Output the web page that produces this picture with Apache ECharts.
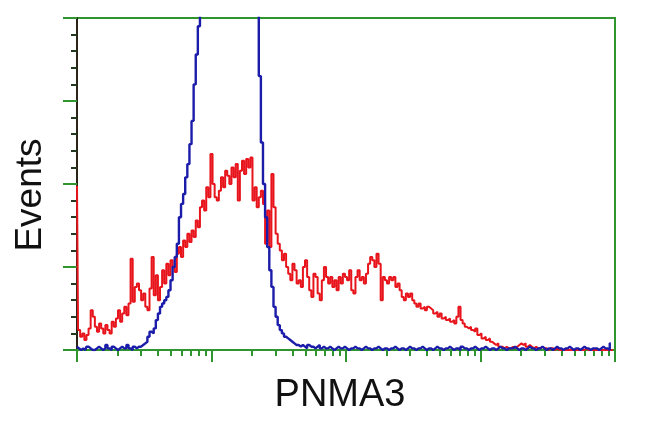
<!DOCTYPE html>
<html>
<head>
<meta charset="utf-8">
<script src="https://cdn.jsdelivr.net/npm/echarts@6/dist/echarts.min.js"></script>
<style>html,body{margin:0;padding:0;background:#fff}#c{width:650px;height:432px}</style>
</head>
<body>
<div id="c"></div>
<script>
// Channel-indexed histogram counts (256 channels spanning 4 log decades)
const xAxisTitle = 'PNMA3';
const yAxisTitle = 'Events';
const channelCount = 256;
const decades = 4;

const redCounts = [
  99,
  12,8,10,6,9,13,
  24,20,14,11,16,13,10,15,12,10,17,14,19,24,17,22,26,21,28,
  55,29,38,40,36,30,34,26,24,37,56,33,45,30,38,48,40,52,45,54,
  50,47,58,62,56,66,62,70,65,72,68,78,74,86,90,84,98,92,
  118,100,92,90,96,104,98,108,105,100,110,104,112,90,108,114,106,115,110,116,
  90,98,86,92,96,88,64,84,62,106,86,70,64,60,54,58,50,46,42,
  52,48,40,42,38,50,54,44,36,32,46,44,34,30,42,50,44,40,44,38,
  42,36,44,40,46,44,42,48,36,34,44,48,42,44,40,46,52,56,54,50,58,52,30,
  44,42,40,44,42,44,38,40,36,32,30,34,32,34,30,28,26,28,25,26,
  24,26,25,24,22,23,20,22,19,20,18,19,17,18,16,20,26,18,16,14,
  13,14,12,11,13,9,10,7,8,6,7,5,4,3,4,2,2,1,2,1,
  1,2,1,2,3,4,3,4,2,3,2,1,2,1,1,2,1,1,0,1,1,0,1,
  0,0,0,0,0,0,0,0,0,0,0,0,0,1,0,0,0,0,0,0,0,0,0,0,0,0,0
];

const blueCounts = [
  2,1,0,1,0,2,1,0,0,1,2,1,0,1,3,1,0,2,1,0,1,2,1,1,3,1,0,2,1,2,
  2,3,4,5,8,11,10,13,18,22,26,28,30,32,36,42,50,56,64,80,88,94,104,112,124,138,160,178,195,215,235,
  255,270,285,300,310,320,330,335,340,342,345,345,343,340,338,335,330,325,318,310,300,290,275,260,240,
  205,165,125,100,80,62,48,38,26,20,15,12,10,8,7,6,5,4,3,3,2,
  3,2,1,3,2,2,1,2,3,1,2,1,1,2,1,0,1,2,1,1,
  2,1,0,1,1,2,1,1,0,1,2,1,1,0,1,1,2,1,0,1,
  1,0,1,1,2,1,0,1,1,0,1,2,1,1,0,1,1,2,1,0,
  1,1,0,1,2,1,1,0,1,1,2,1,0,1,1,0,2,1,1,0,
  1,1,2,1,0,1,1,2,1,0,1,1,0,1,2,1,1,0,1,1,
  1,2,1,0,1,1,0,1,2,1,1,0,1,1,2,1,0,1,1,0,
  1,2,1,1,0,1,1,2,1,0,1,1,0,1,2,1,1,0,1,1,
  1,0,1,2,1,1,0,4
];

const green = '#2f962f';
const chPerDecade = channelCount / decades;
const majorTicks = [];
const minorTicks = [];
for (let d = 0; d <= decades; d++) {
  majorTicks.push(d * chPerDecade);
  if (d < decades) for (let k = 2; k <= 9; k++) minorTicks.push(chPerDecade * (d + Math.log10(k)));
}

const toPairs = arr => arr.map((v, i) => [i, v]);

const chart = echarts.init(document.getElementById('c'), null, {renderer: 'canvas'});
chart.setOption({
  animation: false,
  backgroundColor: '#fff',
  grid: {left: 77, top: 18, right: 35, bottom: 82, show: true, borderColor: green, borderWidth: 2, backgroundColor: 'transparent'},
  xAxis: [{
    type: 'value', min: 0, max: channelCount,
    name: xAxisTitle, nameLocation: 'middle', nameGap: 27,
    nameTextStyle: {fontFamily: 'Liberation Sans', fontSize: 38, color: '#111', padding: [0, 12, 0, 0]},
    axisLine: {show: true, onZero: false, lineStyle: {color: green, width: 2}},
    axisTick: {show: true, customValues: majorTicks, length: 12, lineStyle: {color: green, width: 2}},
    axisLabel: {show: false},
    splitLine: {show: false}
  }, {
    type: 'value', min: 0, max: channelCount, position: 'bottom',
    axisLine: {show: false},
    axisTick: {show: true, customValues: minorTicks, length: 6, lineStyle: {color: green, width: 2}},
    axisLabel: {show: false},
    splitLine: {show: false}
  }],
  yAxis: {
    type: 'value', min: 0, max: 200, interval: 50,
    name: yAxisTitle, nameLocation: 'middle', nameGap: 28, nameRotate: 90,
    nameTextStyle: {fontFamily: 'Liberation Sans', fontSize: 37, color: '#111', padding: [0, 22, 0, 0]},
    axisLine: {show: true, lineStyle: {color: '#2a2418', width: 2}},
    axisTick: {show: true, length: 14, lineStyle: {color: green, width: 2}},
    minorTick: {show: true, splitNumber: 5, length: 6, lineStyle: {color: '#22381f', width: 2}},
    axisLabel: {show: false},
    splitLine: {show: false}
  },
  series: [{
    type: 'line', name: 'red', data: toPairs(redCounts), step: 'middle', showSymbol: false,
    lineStyle: {color: '#e8141c', width: 2}, z: 3
  }, {
    type: 'line', name: 'blue', data: toPairs(blueCounts), step: 'middle', showSymbol: false,
    lineStyle: {color: '#1c1caa', width: 2.4}, z: 4
  }]
});
</script>
</body>
</html>
